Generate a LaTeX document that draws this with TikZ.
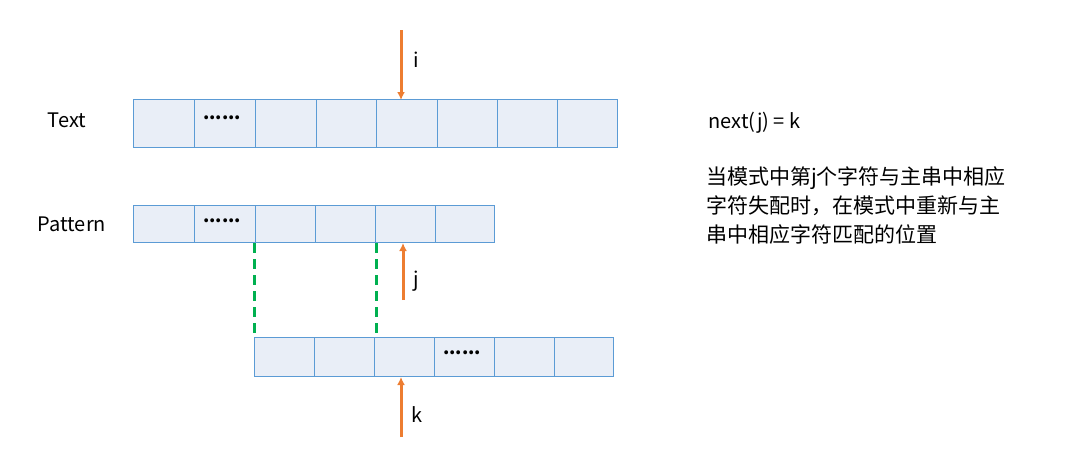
\documentclass[tikz,border=0pt]{standalone}
\usepackage{fontspec}
\usetikzlibrary{arrows.meta}
\setmainfont{Noto Sans CJK SC}
\definecolor{cellfill}{HTML}{E9EEF7}
\definecolor{cellline}{HTML}{5B9BD5}
\definecolor{arr}{HTML}{ED7D31}
\definecolor{grn}{HTML}{00B050}
\begin{document}
\begin{tikzpicture}[x=1pt,y=-1pt,
  cell/.style={draw=cellline,fill=cellfill,line width=1pt},
  arrw/.style={draw=arr,line width=3pt,-{Latex[length=8pt,width=8pt]}},
  lbl/.style={font=\fontsize{20}{23}\selectfont},
  dots/.style={font=\fontsize{18}{20}\selectfont\bfseries}]
\useasboundingbox (0,0) rectangle (1074,463);
\foreach \a/\b [count=\n] in {133/194,194/255,255/316,316/376,376/437,437/497,497/557,557/617}
  \draw[cell] (\a,99) rectangle (\b,147);
\foreach \a/\b in {133/194,194/255,255/315,315/375,375/435,435/494}
  \draw[cell] (\a,205) rectangle (\b,242);
\foreach \a/\b in {254/314,314/374,374/434,434/494,494/554,554/613}
  \draw[cell] (\a,337) rectangle (\b,376);
\node[dots] (d1) at (222,118) {......};
\node[dots] (d2) at (222,221) {......};
\node[dots] (d3) at (462,353) {......};
\coordinate (ga) at (254,243); \coordinate (gb) at (254,337);
\coordinate (gc) at (376,243); \coordinate (gd) at (376,337);
\draw[grn,line width=3pt,dash pattern=on 10pt off 6pt] (ga)--(gb);
\draw[grn,line width=3pt,dash pattern=on 10pt off 6pt] (gc)--(gd);
\coordinate (i0) at (401,30); \coordinate (i1) at (401,100);
\coordinate (j0) at (403,300); \coordinate (j1) at (403,243);
\coordinate (k0) at (401,437); \coordinate (k1) at (401,377);
\draw[arrw] (i0)--(i1); \draw[arrw] (j0)--(j1); \draw[arrw] (k0)--(k1);
\node[lbl] (li) at (416,60) {i};
\node[lbl] (lj) at (416,281) {j};
\node[lbl] (lk) at (417,415) {k};
\node[lbl] (tt) at (67,120) {Text};
\node[lbl] (tp) at (72,224) {Pattern};
\node[lbl,anchor=west] (nx) at (705,123) {next(j) = k};
\node[font=\fontsize{21}{29}\selectfont,anchor=north west,align=left,inner sep=0pt] (cn) at (706,166)
  {当模式中第j个字符与主串中相应\\字符失配时，在模式中重新与主\\串中相应字符匹配的位置};
\end{tikzpicture}
\end{document}
